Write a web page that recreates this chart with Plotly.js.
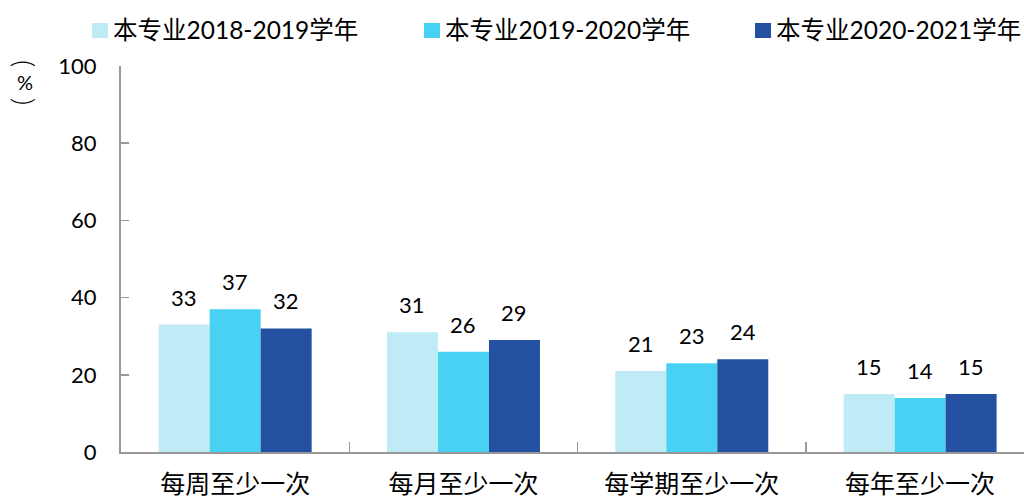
<!DOCTYPE html>
<html>
<head>
<meta charset="utf-8">
<script src="https://cdn.plot.ly/plotly-3.0.1.min.js"></script>
<style>
  html, body { margin: 0; padding: 0; background: #fff; }
  #chart { width: 1024px; height: 497px; }
</style>
</head>
<body>
<div id="chart"></div>
<script>
// Frequency categories and the share (%) for each academic year
const categories = ['每周至少一次', '每月至少一次', '每学期至少一次', '每年至少一次'];
const seriesNames = ['本专业2018-2019学年', '本专业2019-2020学年', '本专业2020-2021学年'];
const values2018 = [33, 31, 21, 15];
const values2019 = [37, 26, 23, 14];
const values2020 = [32, 29, 24, 15];
const yTicks = [0, 20, 40, 60, 80, 100];

const colors = ['#BFEBF7', '#48D1F2', '#2350A0'];
const allValues = [values2018, values2019, values2020];
const FONT = 'Lato, "Noto Sans CJK SC", sans-serif';
const CJK = '"Noto Sans CJK SC", sans-serif';

const W = 1024, H = 497;
const M = { l: 121, r: 0, t: 66, b: 45 };
const plotW = W - M.l - M.r, plotH = H - M.t - M.b;
// pixel -> paper helpers for the items placed outside the plot area
const px = x => (x - M.l) / plotW;
const py = y => (H - M.b - y) / plotH;

const bargap = 0.33;
const barWidth = (1 - bargap) / allValues.length;

const traces = allValues.map((vals, i) => ({
  type: 'bar',
  name: seriesNames[i],
  x: categories,
  y: vals,
  marker: { color: colors[i], line: { width: 0 } },
  hoverinfo: 'none'
}));

const annotations = [];
const shapes = [];

// Value labels above each bar
allValues.forEach((vals, i) => {
  const offset = (i - (allValues.length - 1) / 2) * barWidth;
  vals.forEach((v, j) => {
    annotations.push({
      x: j + offset, y: v, xref: 'x', yref: 'y',
      text: String(v), showarrow: false,
      yanchor: 'bottom', yshift: 12,
      font: { family: FONT, size: 22, color: '#000' }
    });
  });
});

// Vertical unit label (%) on the left: parentheses turned a quarter turn
[['(', 63, 90, 28, 300], ['%', 82, 0, 20, 400], [')', 101, 90, 28, 300]].forEach(([t, y, ang, size, weight]) => {
  annotations.push({
    x: px(25), y: py(y), xref: 'paper', yref: 'paper',
    text: t, showarrow: false, textangle: ang,
    xanchor: 'center', yanchor: 'middle',
    font: { family: FONT, size: size, color: '#000', weight: weight }
  });
});

// Legend row: colour swatch followed by the series name
const legendX = [92, 424, 755];
seriesNames.forEach((name, i) => {
  shapes.push({
    type: 'rect', xref: 'paper', yref: 'paper',
    x0: px(legendX[i]), x1: px(legendX[i] + 16),
    y0: py(38), y1: py(23),
    fillcolor: colors[i], line: { width: 0 }
  });
  annotations.push({
    x: px(legendX[i] + 19), y: py(30), xref: 'paper', yref: 'paper',
    xanchor: 'left', yanchor: 'middle',
    text: name, showarrow: false,
    font: { family: FONT, size: 24.5, color: '#000' }
  });
});

const layout = {
  width: W, height: H,
  margin: M,
  paper_bgcolor: '#fff', plot_bgcolor: '#fff',
  barmode: 'group', bargap: bargap, bargroupgap: 0,
  font: { family: FONT, size: 20, color: '#000' },
  showlegend: false,
  xaxis: {
    type: 'category',
    range: [-0.5, 3.455],
    showline: true, linecolor: '#999', linewidth: 2,
    ticks: 'inside', tickson: 'boundaries', ticklen: 10, tickcolor: '#999', tickwidth: 1.5,
    showgrid: false, zeroline: false, tickangle: 0,
    tickfont: { family: CJK, size: 25, color: '#000' },
    ticklabelstandoff: 9,
    fixedrange: true
  },
  yaxis: {
    range: [0, 100],
    tickvals: yTicks,
    showline: true, linecolor: '#999', linewidth: 2,
    ticks: 'inside', ticklen: 8, tickcolor: '#999', tickwidth: 1.5,
    showgrid: false, zeroline: false,
    tickfont: { family: FONT, size: 22, color: '#000' },
    ticklabelstandoff: 18,
    fixedrange: true
  },
  shapes: shapes,
  annotations: annotations
};

Plotly.newPlot('chart', traces, layout, { displayModeBar: false, staticPlot: true });
</script>
</body>
</html>
